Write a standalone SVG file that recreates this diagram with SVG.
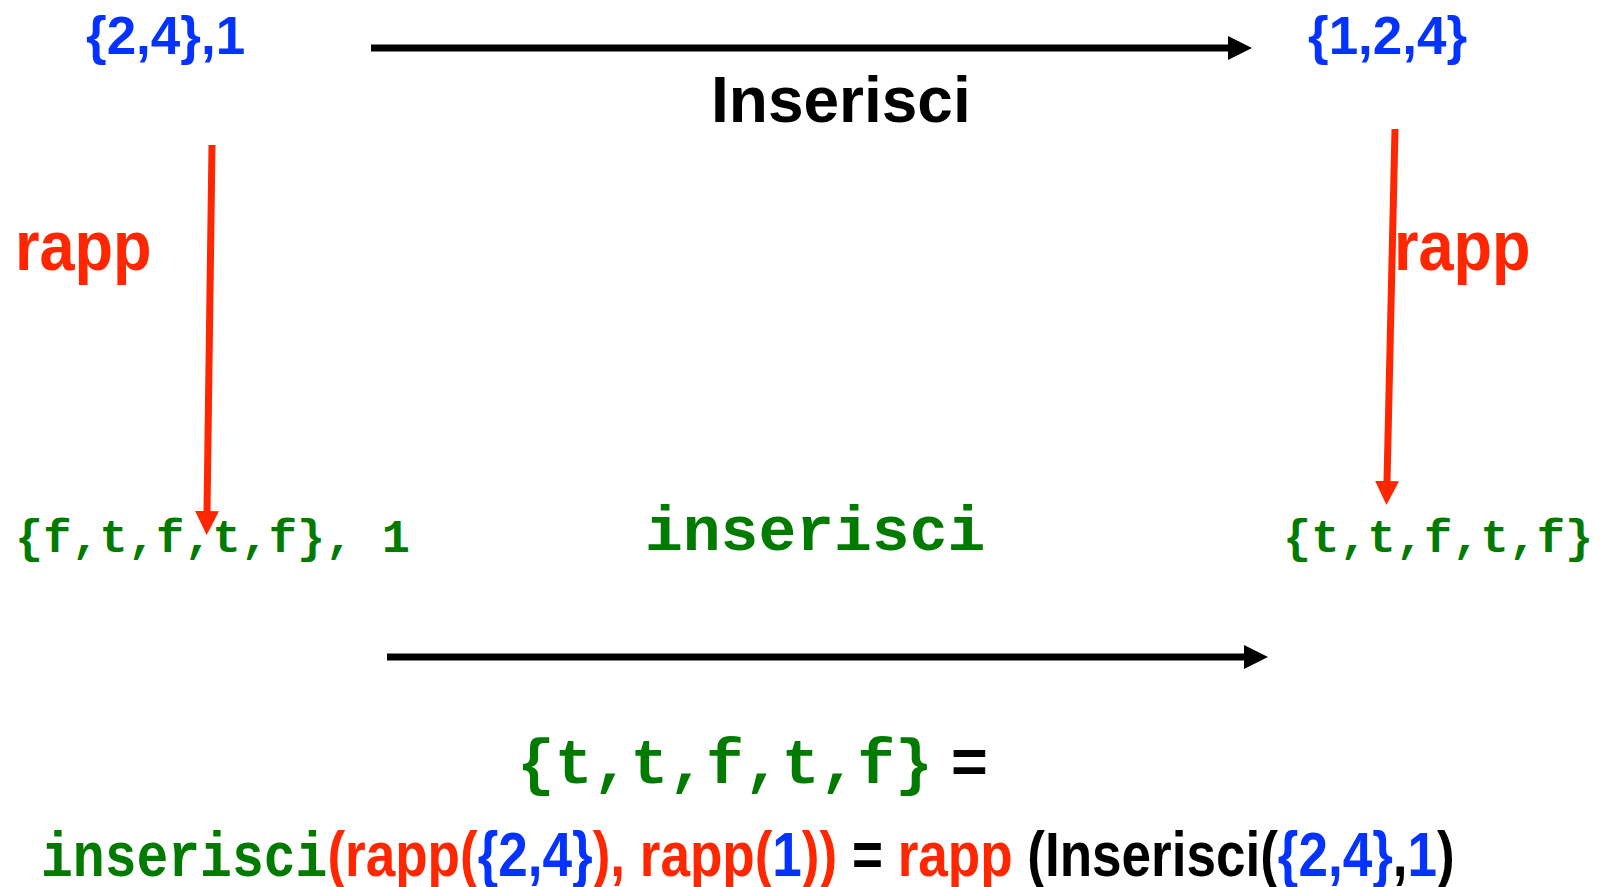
<svg xmlns="http://www.w3.org/2000/svg" width="1604" height="887" viewBox="0 0 1604 887">
<style>
.sans{font-family:"Liberation Sans",Arial,sans-serif;font-weight:bold}
.mono{font-family:"Liberation Mono","Courier New",monospace;font-weight:bold}
.blue{fill:#0433FF}
.red{fill:#FF2600}
.green{fill:#017A00}
.black{fill:#000}
.conn-black{stroke:#000;stroke-width:7;fill:none}
.conn-red{stroke:#FF2600;stroke-width:7;fill:none}
</style>
<defs>
<marker id="ah-black" viewBox="0 0 24 24" markerWidth="24" markerHeight="24" refX="1" refY="12" orient="auto" markerUnits="userSpaceOnUse"><path d="M0,0 L24,12 L0,24 z" fill="#000"/></marker>
<marker id="ah-red" viewBox="0 0 24 24" markerWidth="24" markerHeight="24" refX="1" refY="12" orient="auto" markerUnits="userSpaceOnUse"><path d="M0,0 L24,12 L0,24 z" fill="#FF2600"/></marker>
</defs>
<rect width="1604" height="887" fill="#fff"/>
<g id="connectors">
<line class="conn-black" x1="371" y1="48" x2="1229" y2="48" marker-end="url(#ah-black)"/>
<line class="conn-black" x1="387" y1="657" x2="1245" y2="657" marker-end="url(#ah-black)"/>
<line class="conn-red" x1="212" y1="145" x2="207" y2="512" marker-end="url(#ah-red)"/>
<line class="conn-red" x1="1395" y1="129" x2="1387" y2="482" marker-end="url(#ah-red)"/>
</g>
<g id="node-top-left"><text class="sans blue" x="86" y="54" font-size="53">{2,4},1</text></g>
<g id="node-top-right"><text class="sans blue" x="1308" y="54" font-size="53">{1,2,4}</text></g>
<g id="label-Inserisci"><text class="sans black" x="711" y="122" font-size="64">Inserisci</text></g>
<g id="label-rapp-left"><text class="sans red" transform="translate(15,270) scale(0.9,1)" font-size="70">rapp</text></g>
<g id="label-rapp-right"><text class="sans red" transform="translate(1394,270) scale(0.9,1)" font-size="70">rapp</text></g>
<g id="node-bottom-left"><text class="mono green" x="15" y="552" font-size="47">{f,t,f,t,f}, 1</text></g>
<g id="label-inserisci"><text class="mono green" x="645" y="550" font-size="63">inserisci</text></g>
<g id="node-bottom-right"><text class="mono green" x="1283" y="552" font-size="47">{t,t,f,t,f}</text></g>
<g id="result"><text x="517" y="783" font-size="63"><tspan class="mono green">{t,t,f,t,f}</tspan><tspan class="sans black" x="951">=</tspan></text></g>
<g id="equation"><text transform="translate(41,876) scale(0.842,1)" font-size="63" xml:space="preserve"><tspan class="mono green">inserisci</tspan><tspan class="sans red">(rapp(</tspan><tspan class="sans blue">{2,4}</tspan><tspan class="sans red">), rapp(</tspan><tspan class="sans blue">1</tspan><tspan class="sans red">))</tspan><tspan class="sans black"> = </tspan><tspan class="sans red">rapp </tspan><tspan class="sans black">(Inserisci(</tspan><tspan class="sans blue">{2,4}</tspan><tspan class="sans black">,</tspan><tspan class="sans blue">1</tspan><tspan class="sans black">)</tspan></text></g>
</svg>
